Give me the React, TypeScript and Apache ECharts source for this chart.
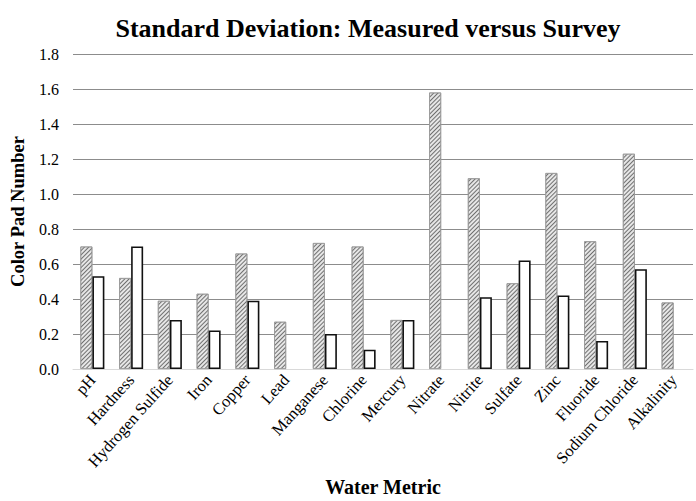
import React, { useEffect, useRef } from "react";
import * as echarts from "echarts";

const categories = [
  "pH", "Hardness", "Hydrogen Sulfide", "Iron", "Copper", "Lead", "Manganese", "Chlorine",
  "Mercury", "Nitrate", "Nitrite", "Sulfate", "Zinc", "Fluoride", "Sodium Chloride", "Alkalinity",
];
const measured = [0.70, 0.52, 0.39, 0.43, 0.66, 0.27, 0.72, 0.70, 0.28, 1.58, 1.09, 0.49, 1.12, 0.73, 1.23, 0.38];
const survey: (number | null)[] = [0.53, 0.70, 0.28, 0.22, 0.39, null, 0.20, 0.11, 0.28, null, 0.41, 0.62, 0.42, 0.16, 0.57, null];
const yTicks = { min: 0, max: 1.8, interval: 0.2 };

const FONT = "'Liberation Serif', 'Times New Roman', serif";

export default function App() {
  const ref = useRef<HTMLDivElement>(null);
  useEffect(() => {
    if (!ref.current) return;
    const chart = echarts.init(ref.current, null, { renderer: "svg" });
    chart.setOption({
      animation: false,
      backgroundColor: "#ffffff",
      textStyle: { fontFamily: FONT },
      title: {
        text: "Standard Deviation: Measured versus Survey",
        left: 363,
        top: 10,
        textAlign: "center",
        textStyle: { fontFamily: FONT, fontSize: 26, fontWeight: "bold", color: "#000" },
      },
      grid: { left: 73, right: 3, top: 54, bottom: 132, outerBoundsMode: "none", containLabel: false },
      xAxis: {
        type: "category",
        data: categories,
        name: "Water Metric",
        nameLocation: "middle",
        nameGap: 108,
        nameTextStyle: { fontFamily: FONT, fontSize: 20, fontWeight: "bold", color: "#000" },
        axisLine: { lineStyle: { color: "#d9d9d9", width: 1 } },
        axisTick: { show: false },
        axisLabel: { rotate: 48, interval: 0, margin: 8, fontFamily: FONT, fontSize: 16.5, color: "#000" },
      },
      yAxis: {
        type: "value",
        min: yTicks.min,
        max: yTicks.max,
        interval: yTicks.interval,
        name: "Color Pad Number",
        nameLocation: "middle",
        nameGap: 46,
        nameTextStyle: { fontFamily: FONT, fontSize: 18.5, fontWeight: "bold", color: "#000" },
        axisLine: { show: false },
        axisTick: { show: false },
        axisLabel: {
          margin: 14,
          fontFamily: FONT,
          fontSize: 16,
          color: "#000",
          formatter: (v: number) => v.toFixed(1),
        },
        splitLine: { lineStyle: { color: "#8c8c8c", width: 1.2 } },
      },
      series: [
        {
          name: "Measured",
          type: "bar",
          data: measured,
          barGap: "0%",
          barCategoryGap: "38%",
          itemStyle: {
            color: "#e6e6e6",
            borderColor: "#9a9a9a",
            borderWidth: 0.8,
            decal: {
              symbol: "rect",
              symbolSize: 1,
              dashArrayX: [1, 0],
              dashArrayY: [1, 2],
              rotation: -Math.PI / 4,
              color: "#707070",
              backgroundColor: "#e8e8e8",
            },
          },
        },
        {
          name: "Survey",
          type: "bar",
          data: survey,
          itemStyle: { color: "#ffffff", borderColor: "#111111", borderWidth: 1.6 },
        },
      ],
    });
    return () => chart.dispose();
  }, []);
  return <div ref={ref} style={{ position: "fixed", left: 0, top: 0, width: 696, height: 501 }} />;
}
